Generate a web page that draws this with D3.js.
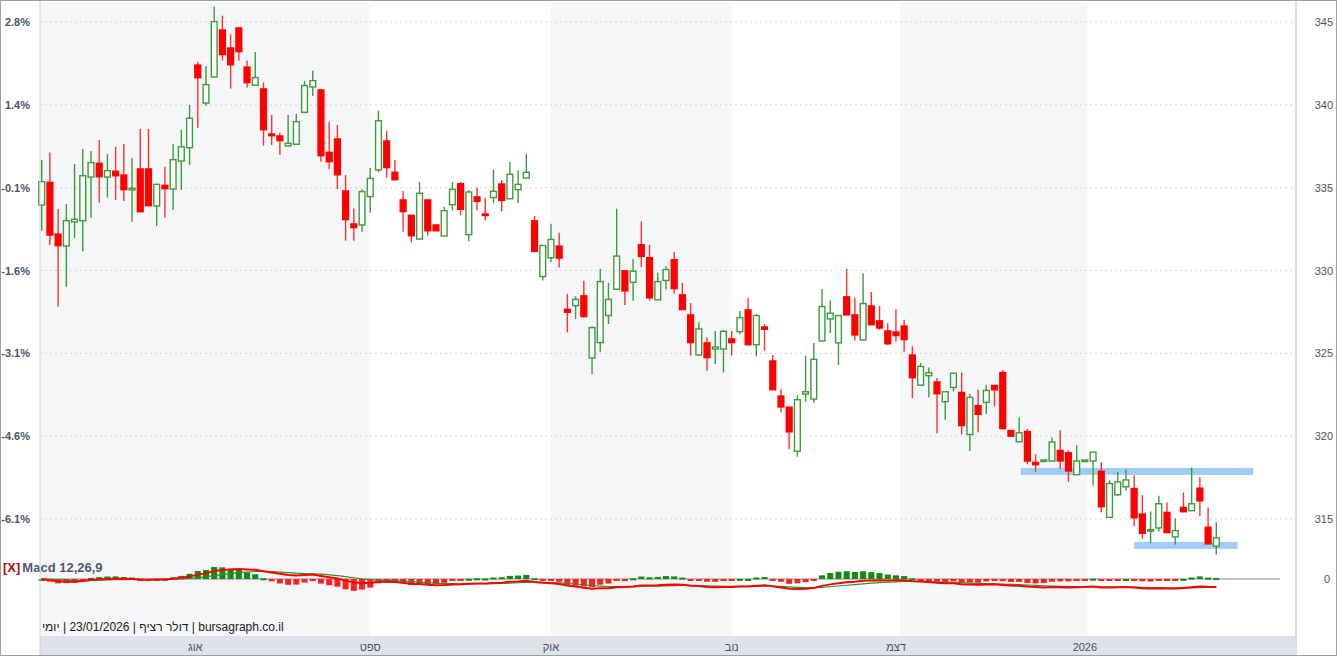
<!DOCTYPE html>
<html><head><meta charset="utf-8">
<script src="https://cdn.jsdelivr.net/npm/d3@7"></script>
<style>
body{margin:0;background:#fff;font-family:"Liberation Sans",Arial,sans-serif}
svg{display:block}
</style></head>
<body><svg id="chart" width="1337" height="656"></svg>
<script>
// daily candles: open, high, low, close
const opens  = [333.95,335.32,332.20,331.48,332.93,333.00,335.64,336.47,335.64,335.99,335.76,334.86,336.13,336.13,333.89,335.14,334.92,336.61,337.41,342.40,340.11,341.68,344.52,343.43,344.64,342.28,341.18,340.96,338.24,338.12,337.52,337.62,339.55,341.08,340.90,337.13,337.94,334.80,332.81,332.75,334.46,336.07,337.82,335.93,334.26,333.33,331.90,334.26,332.75,332.08,
  333.97,335.24,332.16,334.44,333.41,334.40,335.22,334.33,334.88,335.58,333.00,329.64,330.77,331.47,327.66,327.88,328.47,324.72,325.65,327.28,328.87,329.98,329.29,331.55,330.77,328.23,329.40,330.65,328.53,327.32,324.90,
  325.63,325.26,325.26,325.87,326.31,327.62,325.52,326.59,324.54,322.42,321.75,319.09,322.54,322.24,325.75,327.08,325.63,328.41,327.32,325.81,327.86,326.96,326.35,326.29,326.65,324.90,323.08,323.65,323.27,322.08,
  322.94,322.64,320.10,321.84,322.04,323.06,323.84,320.34,319.66,320.28,318.42,318.48,318.50,319.14,319.00,317.68,318.52,318.50,317.88,315.10,316.46,316.94,316.84,315.30,314.30,314.46,315.40,313.92,315.70,315.50,316.86,314.50,313.36];
const highs  = [336.67,337.13,333.71,334.01,336.43,337.33,337.21,337.88,337.03,337.47,337.64,336.79,338.54,338.54,335.20,336.27,337.64,338.48,339.99,342.60,342.34,345.93,345.38,344.26,344.64,342.67,343.19,341.36,339.39,338.32,339.39,339.45,341.44,342.06,340.96,338.98,338.78,335.76,333.75,334.90,336.19,339.65,338.42,336.67,334.80,333.33,335.34,334.26,332.75,333.85,
  335.34,335.34,334.84,335.00,334.38,336.09,335.46,336.55,336.05,337.06,333.29,331.51,332.82,332.28,328.59,328.45,329.38,326.63,330.10,329.25,333.73,329.98,330.71,332.96,331.55,329.86,330.26,331.11,329.25,328.04,326.88,
  325.97,326.35,326.41,326.35,327.56,328.35,327.38,326.77,324.90,322.84,321.75,322.48,324.86,325.63,328.89,328.19,327.28,330.10,328.35,329.84,328.71,327.86,326.81,327.68,327.02,325.42,324.42,324.15,323.51,322.68,
  323.80,323.84,322.56,322.80,323.10,323.10,324.00,320.34,321.14,320.44,318.90,318.56,319.94,320.36,319.14,319.44,318.56,319.04,318.44,317.34,317.84,318.00,317.64,316.44,315.46,316.40,316.00,315.04,316.60,318.10,317.52,315.70,314.80];
const lows   = [332.40,331.54,327.82,329.02,331.96,331.14,333.19,334.09,334.40,334.26,334.20,332.95,333.55,333.91,332.69,333.19,333.65,334.86,336.37,338.62,339.95,341.68,342.67,340.98,342.67,341.04,341.18,337.54,337.58,336.97,337.52,337.58,339.49,340.53,336.57,336.13,334.92,331.80,331.80,332.34,333.49,335.93,335.60,335.48,332.34,331.70,331.84,332.10,332.40,332.08,
  333.63,333.33,331.77,333.63,333.02,334.07,333.57,334.33,334.07,335.54,331.15,329.40,330.50,330.18,326.27,327.08,327.16,323.75,325.10,326.77,328.87,327.92,328.17,330.20,328.19,328.23,328.85,328.59,327.64,324.86,324.86,
  323.95,324.35,323.85,324.86,326.15,325.52,324.82,325.16,322.80,321.43,319.21,318.77,322.08,322.00,325.75,326.23,324.29,327.32,325.77,325.77,326.73,326.43,325.50,325.71,325.10,322.28,323.04,322.34,320.18,320.99,
  322.70,320.10,319.10,320.24,321.34,321.80,320.40,320.00,319.66,318.30,317.84,318.48,318.50,318.04,317.24,317.64,318.52,317.00,315.40,315.10,316.40,316.70,314.56,313.80,313.54,314.24,314.18,313.46,315.40,315.50,315.16,313.50,312.86];
const closes = [335.36,332.14,331.50,333.01,333.09,335.72,336.51,335.66,336.03,335.72,334.88,334.96,333.55,333.91,335.20,334.94,336.69,337.47,339.19,341.64,341.22,345.02,343.03,342.42,343.21,341.34,341.64,338.50,338.14,337.84,337.68,338.98,341.16,341.46,336.93,336.57,335.78,333.07,332.59,334.76,335.56,339.04,336.21,335.48,333.55,332.10,334.66,332.40,332.40,333.61,
  334.90,333.69,334.74,334.17,333.33,334.78,334.23,335.81,335.20,335.93,331.15,331.51,331.87,330.75,327.48,328.25,327.22,326.55,329.33,328.25,330.87,328.77,329.96,330.85,328.35,329.33,330.06,328.91,327.64,325.65,326.47,
  324.74,325.38,326.33,325.65,327.16,325.52,327.28,326.45,322.80,321.77,320.26,322.20,322.68,324.64,327.82,327.42,327.28,327.32,326.11,328.00,326.73,326.53,325.58,326.07,325.83,323.53,324.21,323.83,322.56,322.68,
  323.80,320.64,322.34,321.32,322.76,322.80,320.46,320.00,320.20,318.50,318.28,318.56,319.64,318.50,317.90,318.50,318.56,319.04,315.74,317.14,317.24,317.36,315.08,314.14,314.36,315.92,314.18,314.30,315.44,315.92,316.10,313.50,313.86];

const priceTicks = [345, 340, 335, 330, 325, 320, 315];
const pctTicks = ["2.8%", "1.4%", "-0.1%", "-1.6%", "-3.1%", "-4.6%", "-6.1%"];
// month starts (candle index) for the x axis
const monthLabels = ["אוג", "ספט", "אוק", "נוב", "דצמ", "2026"];
const monthIndex  = [18.7, 40, 62, 84, 104, 127];
const shadedMonths = [[-5, 40], [62, 84], [104.5, 127.3]];
// drawn support / resistance levels: [from index, to index, price]
const levels = [[119.2, 147.5, 317.87], [133, 145.6, 313.41]];

const W = 1337, H = 656;
const plotL = 40, plotR = 1295, plotT = 2, plotB = 636;
const svg = d3.select("#chart");

const n = closes.length;
const x = d3.scaleLinear().domain([0, n - 1]).range([41.7, 1216.3]);
const y = d3.scaleLinear().domain([315, 345]).range([519, 22]);
const cw = 5.8;

// background
svg.append("rect").attr("width", W).attr("height", H).attr("fill", "#fff");
svg.append("g").selectAll("rect").data(shadedMonths).join("rect")
  .attr("x", d => Math.max(plotL, x(d[0])))
  .attr("width", d => x(d[1]) - Math.max(plotL, x(d[0])))
  .attr("y", plotT).attr("height", plotB - plotT).attr("fill", "#f5f6f8");

// grid
svg.append("g").selectAll("line").data(priceTicks).join("line")
  .attr("x1", plotL).attr("x2", plotR).attr("y1", d => y(d)).attr("y2", d => y(d))
  .attr("stroke", "#d4d7dc").attr("stroke-dasharray", "2,3");

// axes labels
svg.append("g").selectAll("text").data(priceTicks).join("text")
  .attr("x", 1333).attr("y", d => y(d) + 4).attr("text-anchor", "end")
  .attr("font-size", 11).attr("fill", "#4a5466").text(d => d);
svg.append("g").selectAll("text").data(pctTicks).join("text")
  .attr("x", 30).attr("y", (d, i) => y(priceTicks[i]) + 4).attr("text-anchor", "end")
  .attr("font-size", 11).attr("font-weight", "bold").attr("fill", "#4a5466").text(d => d);

// levels
svg.append("g").selectAll("rect").data(levels).join("rect")
  .attr("x", d => x(d[0])).attr("width", d => x(d[1]) - x(d[0]))
  .attr("y", d => y(d[2]) - 3.5).attr("height", 7).attr("fill", "#9fcdf5");

// candles
const idx = d3.range(n);
const up = i => closes[i] >= opens[i];
const cg = svg.append("g");
cg.selectAll("line").data(idx).join("line")
  .attr("x1", i => x(i)).attr("x2", i => x(i))
  .attr("y1", i => y(highs[i])).attr("y2", i => y(lows[i]))
  .attr("stroke", i => up(i) ? "#3c9c3c" : "#ff3030").attr("stroke-width", 1.4);
cg.selectAll("rect").data(idx).join("rect")
  .attr("x", i => x(i) - cw / 2).attr("width", cw)
  .attr("y", i => y(Math.max(opens[i], closes[i])))
  .attr("height", i => Math.max(1.5, Math.abs(y(opens[i]) - y(closes[i]))))
  .attr("fill", i => up(i) ? "#fff" : "#ff0000")
  .attr("stroke", i => up(i) ? "#3c9c3c" : "#ff0000").attr("stroke-width", 1.4);

// MACD 12,26,9 from closes
function ema(arr, p) {
  const k = 2 / (p + 1); const out = []; let e = arr[0];
  arr.forEach((v, i) => { e = i ? v * k + e * (1 - k) : v; out.push(e); });
  return out;
}
const e12 = ema(closes, 12), e26 = ema(closes, 26);
const macd = closes.map((_, i) => e12[i] - e26[i]);
const signal = ema(macd, 9);
const hist = macd.map((v, i) => v - signal[i]);
const zeroY = 579;
const mmax = d3.max(macd.concat(signal)), mmin = d3.min(macd.concat(signal));
const ym = d3.scaleLinear().domain([0, Math.max(mmax / 10, -mmin / 40)]).range([zeroY, zeroY - 1]);
const yh = d3.scaleLinear().domain([0, d3.max(hist, Math.abs) / 12]).range([zeroY, zeroY - 1]);

svg.append("line").attr("x1", plotL).attr("x2", 1280).attr("y1", zeroY).attr("y2", zeroY)
  .attr("stroke", "#888");
svg.append("g").selectAll("rect").data(idx).join("rect")
  .attr("x", i => x(i) - 3).attr("width", 6)
  .attr("y", i => Math.min(yh(hist[i]), zeroY))
  .attr("height", i => Math.max(2, Math.abs(yh(hist[i]) - zeroY)))
  .attr("fill", i => hist[i] >= 0 ? "#118c11" : "#ff2020");
const line = d3.line().x((d, i) => x(i)).y(d => ym(d));
svg.append("path").datum(signal).attr("d", line).attr("fill", "none").attr("stroke", "#2e8f2e").attr("stroke-width", 1.2);
svg.append("path").datum(macd).attr("d", line).attr("fill", "none").attr("stroke", "#ff0000").attr("stroke-width", 2);
svg.append("text").attr("x", 1330).attr("y", zeroY + 4).attr("text-anchor", "end")
  .attr("font-size", 11).attr("fill", "#4a5466").text("0");

const lab = svg.append("text").attr("x", 3).attr("y", 572).attr("font-size", 13).attr("font-weight", "bold");
lab.append("tspan").attr("fill", "#b01010").text("[X]");
lab.append("tspan").attr("fill", "#505a6c").attr("dx", 2).text("Macd 12,26,9");
svg.append("text").attr("x", 42).attr("y", 631).attr("font-size", 12).attr("fill", "#222")
  .text("\u200Eיומי\u200E | 23/01/2026 | \u200Eדולר רציף\u200E | bursagraph.co.il");

// x axis band
svg.append("rect").attr("x", plotL).attr("y", plotB).attr("width", plotR - plotL).attr("height", H - plotB).attr("fill", "#dfe2e9");
svg.append("g").selectAll("text").data(monthLabels).join("text")
  .attr("x", (d, i) => x(monthIndex[i])).attr("y", 651).attr("text-anchor", "middle")
  .attr("font-size", 11).attr("fill", "#4a5466").text(d => d);

// frame
svg.append("line").attr("x1", plotL).attr("x2", plotL).attr("y1", 0).attr("y2", H).attr("stroke", "#cfd3da");
svg.append("line").attr("x1", plotR + 1).attr("x2", plotR + 1).attr("y1", 0).attr("y2", H).attr("stroke", "#b8bcc4");
svg.append("rect").attr("x", 0.5).attr("y", 0.5).attr("width", W - 1).attr("height", H - 1)
  .attr("fill", "none").attr("stroke", "#9a9ea6");
</script></body></html>
